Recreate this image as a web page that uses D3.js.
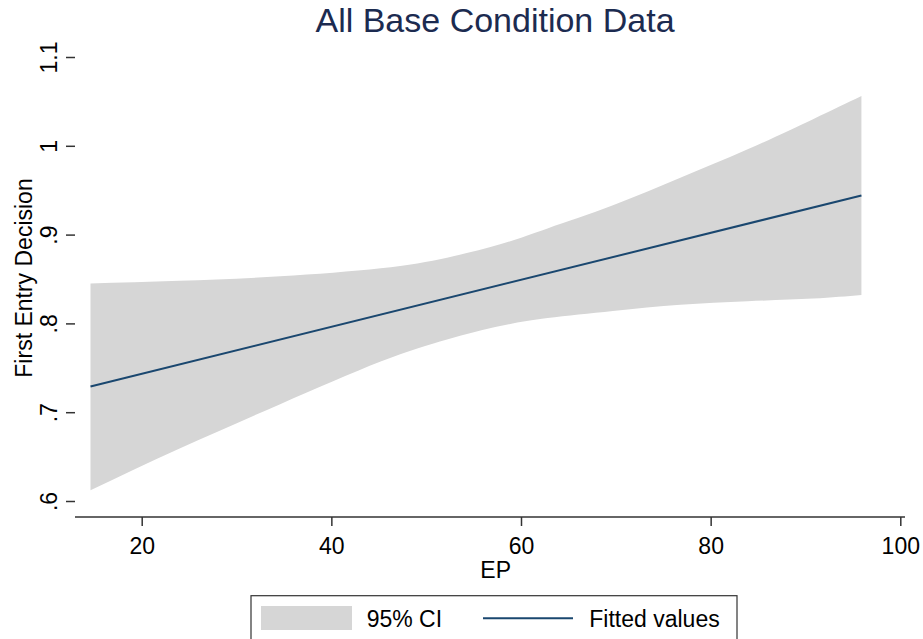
<!DOCTYPE html>
<html>
<head>
<meta charset="utf-8">
<script src="https://cdn.jsdelivr.net/npm/d3@7"></script>
<style>
  body { margin: 0; background: #fff; }
  svg { display: block; font-family: "Liberation Sans", Arial, sans-serif; }
</style>
</head>
<body>
<svg width="923" height="639"></svg>
<script>
// dati
var epValues = [14.6, 24.0, 34.6, 45.2, 52.2, 57.8, 62.8, 69.7, 76.8, 83.9, 90.8, 95.9],
	ciUpper = [0.845, 0.848, 0.853, 0.862, 0.874, 0.889, 0.907, 0.933, 0.964, 0.996, 1.030, 1.056],
	ciLower = [0.612, 0.659, 0.709, 0.757, 0.782, 0.797, 0.806, 0.814, 0.821, 0.825, 0.828, 0.832],
	fitEP = [14.6, 95.9],
	fitValues = [0.729, 0.944],
	xTicks = [20, 40, 60, 80, 100],
	yTicks = [0.6, 0.7, 0.8, 0.9, 1, 1.1],
	legendLabels = ["95% CI", "Fitted values"];

var svg = d3.select("svg"),
	left = 75, right = 905, top = 43, bottom = 517;

var x = d3.scaleLinear().domain([20, 100]).range([141.7, 900.3]),
	y = d3.scaleLinear().domain([0.6, 1.1]).range([501, 57]);

var band = epValues.map(function(d, i) { return { ep: d, lo: ciLower[i], hi: ciUpper[i] }; }),
	fit = fitEP.map(function(d, i) { return { ep: d, v: fitValues[i] }; });

// banda di confidenza
var area = d3.area()
	.curve(d3.curveNatural)
	.x(function(d) { return x(d.ep); })
	.y0(function(d) { return y(d.lo); })
	.y1(function(d) { return y(d.hi); });

svg.append("path").datum(band)
	.attr("d", area)
	.attr("fill", "#d6d6d6");

// retta stimata
var line = d3.line()
	.x(function(d) { return x(d.ep); })
	.y(function(d) { return y(d.v); });

svg.append("path").datum(fit)
	.attr("d", line)
	.attr("fill", "none")
	.attr("stroke", "#1a476f")
	.attr("stroke-width", 2);

// assi
var fmtY = function(d) { return d3.format("")(d).replace(/^0\./, "."); };

var gx = svg.append("g").attr("transform", "translate(0," + bottom + ")")
	.call(d3.axisBottom(x).tickValues(xTicks).tickSize(9).tickPadding(12));
gx.select(".domain").attr("d", "M" + left + ",0H" + right);

var gy = svg.append("g").attr("transform", "translate(" + left + ",0)")
	.call(d3.axisLeft(y).tickValues(yTicks).tickSize(9).tickFormat(fmtY));
gy.select(".domain").attr("d", "M0," + top + "V" + bottom);

svg.selectAll(".domain").attr("stroke", "#333").attr("stroke-width", 1.5);
svg.selectAll(".tick line").attr("stroke", "#333").attr("stroke-width", 1.5);
gx.selectAll(".tick text").attr("font-size", 23).attr("fill", "#000")
	.attr("font-family", "Liberation Sans, Arial, sans-serif");
gy.selectAll(".tick text")
	.attr("font-size", 23).attr("fill", "#000")
	.attr("font-family", "Liberation Sans, Arial, sans-serif")
	.attr("text-anchor", "middle")
	.attr("dy", 0)
	.attr("x", 0)
	.attr("transform", "translate(-18,0) rotate(-90)");

// titoli
svg.append("text")
	.attr("x", 495).attr("y", 32)
	.attr("text-anchor", "middle")
	.attr("font-size", 34)
	.attr("fill", "#1c2b50")
	.text("All Base Condition Data");

svg.append("text")
	.attr("x", 495.7).attr("y", 577.7)
	.attr("text-anchor", "middle")
	.attr("font-size", 23)
	.text("EP");

svg.append("text")
	.attr("transform", "translate(32,278) rotate(-90)")
	.attr("text-anchor", "middle")
	.attr("font-size", 23)
	.text("First Entry Decision");

// legenda
var lg = svg.append("g");
lg.append("rect")
	.attr("x", 251).attr("y", 595.7)
	.attr("width", 486).attr("height", 60)
	.attr("fill", "#fff").attr("stroke", "#333").attr("stroke-width", 1.2);
lg.append("rect")
	.attr("x", 261).attr("y", 606)
	.attr("width", 91).attr("height", 24)
	.attr("fill", "#d6d6d6");
lg.append("text")
	.attr("x", 366.7).attr("y", 627)
	.attr("font-size", 23)
	.text(legendLabels[0]);
lg.append("line")
	.attr("x1", 483).attr("x2", 573)
	.attr("y1", 618.3).attr("y2", 618.3)
	.attr("stroke", "#1a476f").attr("stroke-width", 2);
lg.append("text")
	.attr("x", 589.3).attr("y", 627)
	.attr("font-size", 23)
	.text(legendLabels[1]);
</script>
</body>
</html>
